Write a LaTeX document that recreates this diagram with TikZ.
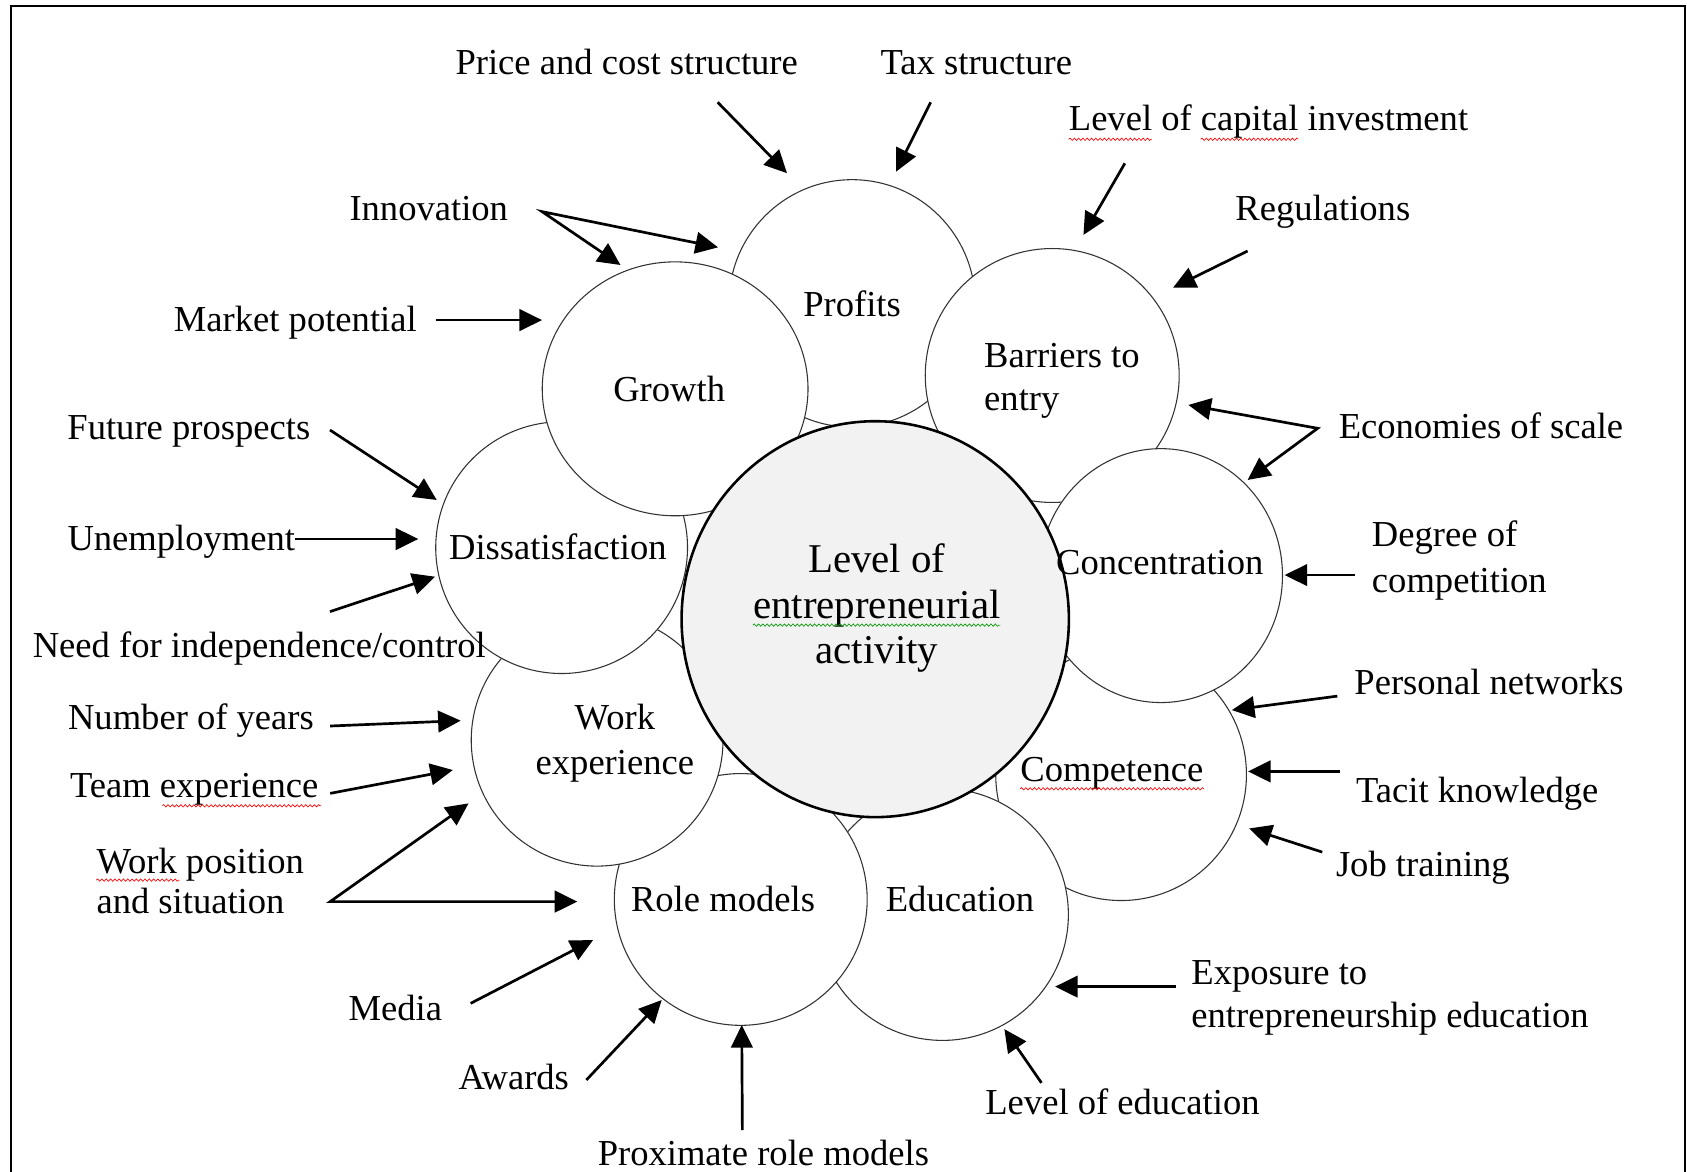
\documentclass[tikz,border=0pt]{standalone}
\usepackage{fontspec}
\setmainfont{Liberation Serif}
\usetikzlibrary{arrows.meta,shapes.geometric,calc,decorations.pathmorphing}
\definecolor{centerfill}{RGB}{242,242,242}
\definecolor{sqred}{RGB}{255,0,0}
\definecolor{sqgreen}{RGB}{0,150,0}
\begin{document}
\begin{tikzpicture}[x=1pt,y=-1pt,
  bubble/.style={ellipse, draw=black!80, line width=1pt, fill=white, inner sep=0pt},
  core/.style={ellipse, draw=black, line width=2.4pt, fill=centerfill, inner sep=0pt},
  lbl/.style={inner sep=0pt, yshift=-2.5pt, font=\fontsize{34}{41}\selectfont, text height=23pt, text depth=7.5pt},
  mlbl/.style={inner sep=0pt, yshift=-2.5pt},
  arr/.style={line width=2.5pt, -{Triangle[length=21pt,width=20pt]}},
  darr/.style={line width=2.5pt, line join=miter, {Triangle[length=21pt,width=20pt]}-{Triangle[length=21pt,width=20pt]}},
  sq/.style={draw=sqred, line width=0.6pt, decorate, decoration={snake, amplitude=1.1pt, segment length=4pt}},
  sqg/.style={draw=sqgreen, line width=0.6pt, decorate, decoration={snake, amplitude=1.1pt, segment length=4pt}},
]
\useasboundingbox (0,0) rectangle (1568,1089);
% frame (open at the bottom)
\draw[line width=2pt] (10.2,1089) -- (10.2,5.6) -- (1566,5.6) -- (1566,1089);

% bubbles, in stacking order
\node[bubble, minimum width=229pt, minimum height=230pt] (profits) at (792,282) {};
\node[bubble, minimum width=236pt, minimum height=236pt] (barriers) at (978,349) {};
\node[bubble, minimum width=233pt, minimum height=234pt] (competence) at (1042,720) {};
\node[bubble, minimum width=226pt, minimum height=236pt] (concentration) at (1079,535) {};
\node[bubble, minimum width=234pt, minimum height=234pt] (education) at (876,850) {};
\node[bubble, minimum width=235pt, minimum height=234pt] (rolemodels) at (688.5,836) {};
\node[bubble, minimum width=234pt, minimum height=234pt] (workexp) at (555,688) {};
\node[bubble, minimum width=234pt, minimum height=234pt] (dissat) at (522,509) {};
\node[bubble, minimum width=247pt, minimum height=236pt] (growth) at (627.5,361.4) {};
\node[core, minimum width=360pt, minimum height=368pt] (core) at (813.5,575.5) {};

% texts inside bubbles
\node[lbl] (profitsT) at (792,283.5) {Profits};
\node[lbl] (growthT) at (622,362.5) {Growth};
\node[mlbl, anchor=north west, align=left, font=\fontsize{34}{40.5}\selectfont] (barriersT) at (914.6,316) {Barriers to\\entry};
\node[lbl] (dissatT) at (518.5,510) {Dissatisfaction};
\node[lbl] (concT) at (1078,523.5) {Concentration};
\node[mlbl, anchor=north, align=center, font=\fontsize{38}{42.5}\selectfont] (coreT) at (815,502.5) {Level of\\entrepreneurial\\activity};
\node[lbl] (compT) at (1033.4,715.7) {Competence};
\node[mlbl, anchor=north, align=center, font=\fontsize{34}{42}\selectfont] (workT) at (571.5,652) {Work\\experience};
\node[lbl] (roleT) at (672,836.5) {Role models};
\node[lbl] (eduT) at (892.3,836.5) {Education};

% outer labels
\node[lbl] (price) at (582.5,59) {Price and cost structure};
\node[lbl] (tax) at (907.5,59) {Tax structure};
\node[lbl] (lci) at (1179,111) {Level of capital investment};
\node[lbl] (regul) at (1229.5,195) {Regulations};
\node[lbl] (innov) at (398.5,194.5) {Innovation};
\node[lbl] (market) at (274.5,297.5) {Market potential};
\node[lbl] (econ) at (1376.5,397.5) {Economies of scale};
\node[lbl] (future) at (175.5,398) {Future prospects};
\node[lbl] (unemp) at (168.5,501) {Unemployment};
\node[lbl] (need) at (241,601) {Need for independence/control};
\node[mlbl, anchor=north west, align=left, font=\fontsize{34}{43}\selectfont] (degree) at (1275,481.4) {Degree of\\competition};
\node[lbl] (personal) at (1384,635) {Personal networks};
\node[lbl] (years) at (177.5,667.6) {Number of years};
\node[lbl] (team) at (180.5,731) {Team experience};
\node[lbl] (tacit) at (1373,735.8) {Tacit knowledge};
\node[lbl] (jobtr) at (1322.5,804) {Job training};
\node[mlbl, anchor=north west, align=left, font=\fontsize{34}{37}\selectfont] (workpos) at (89.5,785.4) {Work position\\and situation};
\node[lbl] (media) at (367.5,938.5) {Media};
\node[lbl] (awards) at (477.5,1002) {Awards};
\node[lbl] (leveled) at (1043.3,1026) {Level of education};
\node[mlbl, anchor=north west, align=left, font=\fontsize{34}{40.5}\selectfont] (exposure) at (1107.2,890) {Exposure to\\entrepreneurship education};
\node[lbl] (proximate) at (709.5,1073) {Proximate role models};

% spelling marks
\draw[sq] ($(lci.south west)+(0,0.5)$) -- ++(77.4,0);
\draw[sq] ($(lci.south west)+(122.7,0.5)$) -- ++(90.6,0);
\draw[sq] ($(team.south west)+(86,0)$) -- ++(147.5,0);
\draw[sq] ($(workpos.north west)+(0,30.1)$) -- ++(77.4,0);
\draw[sq] ($(compT.south west)+(0,-0.5)$) -- ++(171,0);
\draw[sqg] ($(coreT.north west)+(0,76)$) -- ++(230,0);

% arrow end points
\coordinate (priceS) at (667,95);      \coordinate (priceE) at (731.5,161);
\coordinate (taxS) at (865,95);        \coordinate (taxE) at (832.8,159.6);
\coordinate (lciS) at (1045.5,151.8);  \coordinate (lciE) at (1007,218.4);
\coordinate (regS) at (1159.6,233.3);  \coordinate (regE) at (1090.3,267.4);
\coordinate (innV) at (503.8,196.7);   \coordinate (innG) at (576.7,246.3); \coordinate (innP) at (667.4,229.9);
\coordinate (mktS) at (405,297.5);     \coordinate (mktE) at (503.8,297.5);
\coordinate (futS) at (306.7,399.7);   \coordinate (futE) at (405.9,464.7);
\coordinate (unE) at (388.8,501);
\coordinate (needS) at (306.7,568.5);  \coordinate (needE) at (404.3,536);
\coordinate (yrsS) at (306.9,674.8);   \coordinate (yrsE) at (428.2,669.8);
\coordinate (teamS) at (306.9,737.4);  \coordinate (teamE) at (420.9,715.7);
\coordinate (wpV) at (306.9,838);      \coordinate (wpW) at (435.5,746.7); \coordinate (wpR) at (536.6,838);
\coordinate (medS) at (437.4,932.6);   \coordinate (medE) at (551.3,873.7);
\coordinate (awS) at (545,1003.8);     \coordinate (awE) at (615,929.5);
\coordinate (proS) at (690,1050.3);    \coordinate (proE) at (689.4,952.7);
\coordinate (leS) at (968,1006.5);     \coordinate (leE) at (933.5,956.5);
\coordinate (expS) at (1092.8,917);    \coordinate (expE) at (980.7,917);
\coordinate (jobS) at (1229,792);      \coordinate (jobE) at (1161,770);
\coordinate (tacS) at (1245,717);      \coordinate (tacE) at (1160,717);
\coordinate (perS) at (1243,647);      \coordinate (perE) at (1145,660);
\coordinate (degS) at (1259,534.5);    \coordinate (degE) at (1194,534.5);
\coordinate (ecoV) at (1224.7,398.1);  \coordinate (ecoB) at (1104.5,376.4); \coordinate (ecoC) at (1159.6,446.1);

% arrows
\draw[arr] (priceS) -- (priceE);
\draw[arr] (taxS) -- (taxE);
\draw[arr] (lciS) -- (lciE);
\draw[arr] (regS) -- (regE);
\draw[darr] (innG) -- (innV) -- (innP);
\draw[arr] (mktS) -- (mktE);
\draw[arr] (futS) -- (futE);
\draw[arr] (unemp.east |- unE) -- (unE);
\draw[arr] (needS) -- (needE);
\draw[arr] (yrsS) -- (yrsE);
\draw[arr] (teamS) -- (teamE);
\draw[darr] (wpW) -- (wpV) -- (wpR);
\draw[arr] (medS) -- (medE);
\draw[arr] (awS) -- (awE);
\draw[arr] (proS) -- (proE);
\draw[arr] (leS) -- (leE);
\draw[arr] (expS) -- (expE);
\draw[arr] (jobS) -- (jobE);
\draw[arr] (tacS) -- (tacE);
\draw[arr] (perS) -- (perE);
\draw[arr] (degS) -- (degE);
\draw[darr] (ecoB) -- (ecoV) -- (ecoC);
\end{tikzpicture}
\end{document}
